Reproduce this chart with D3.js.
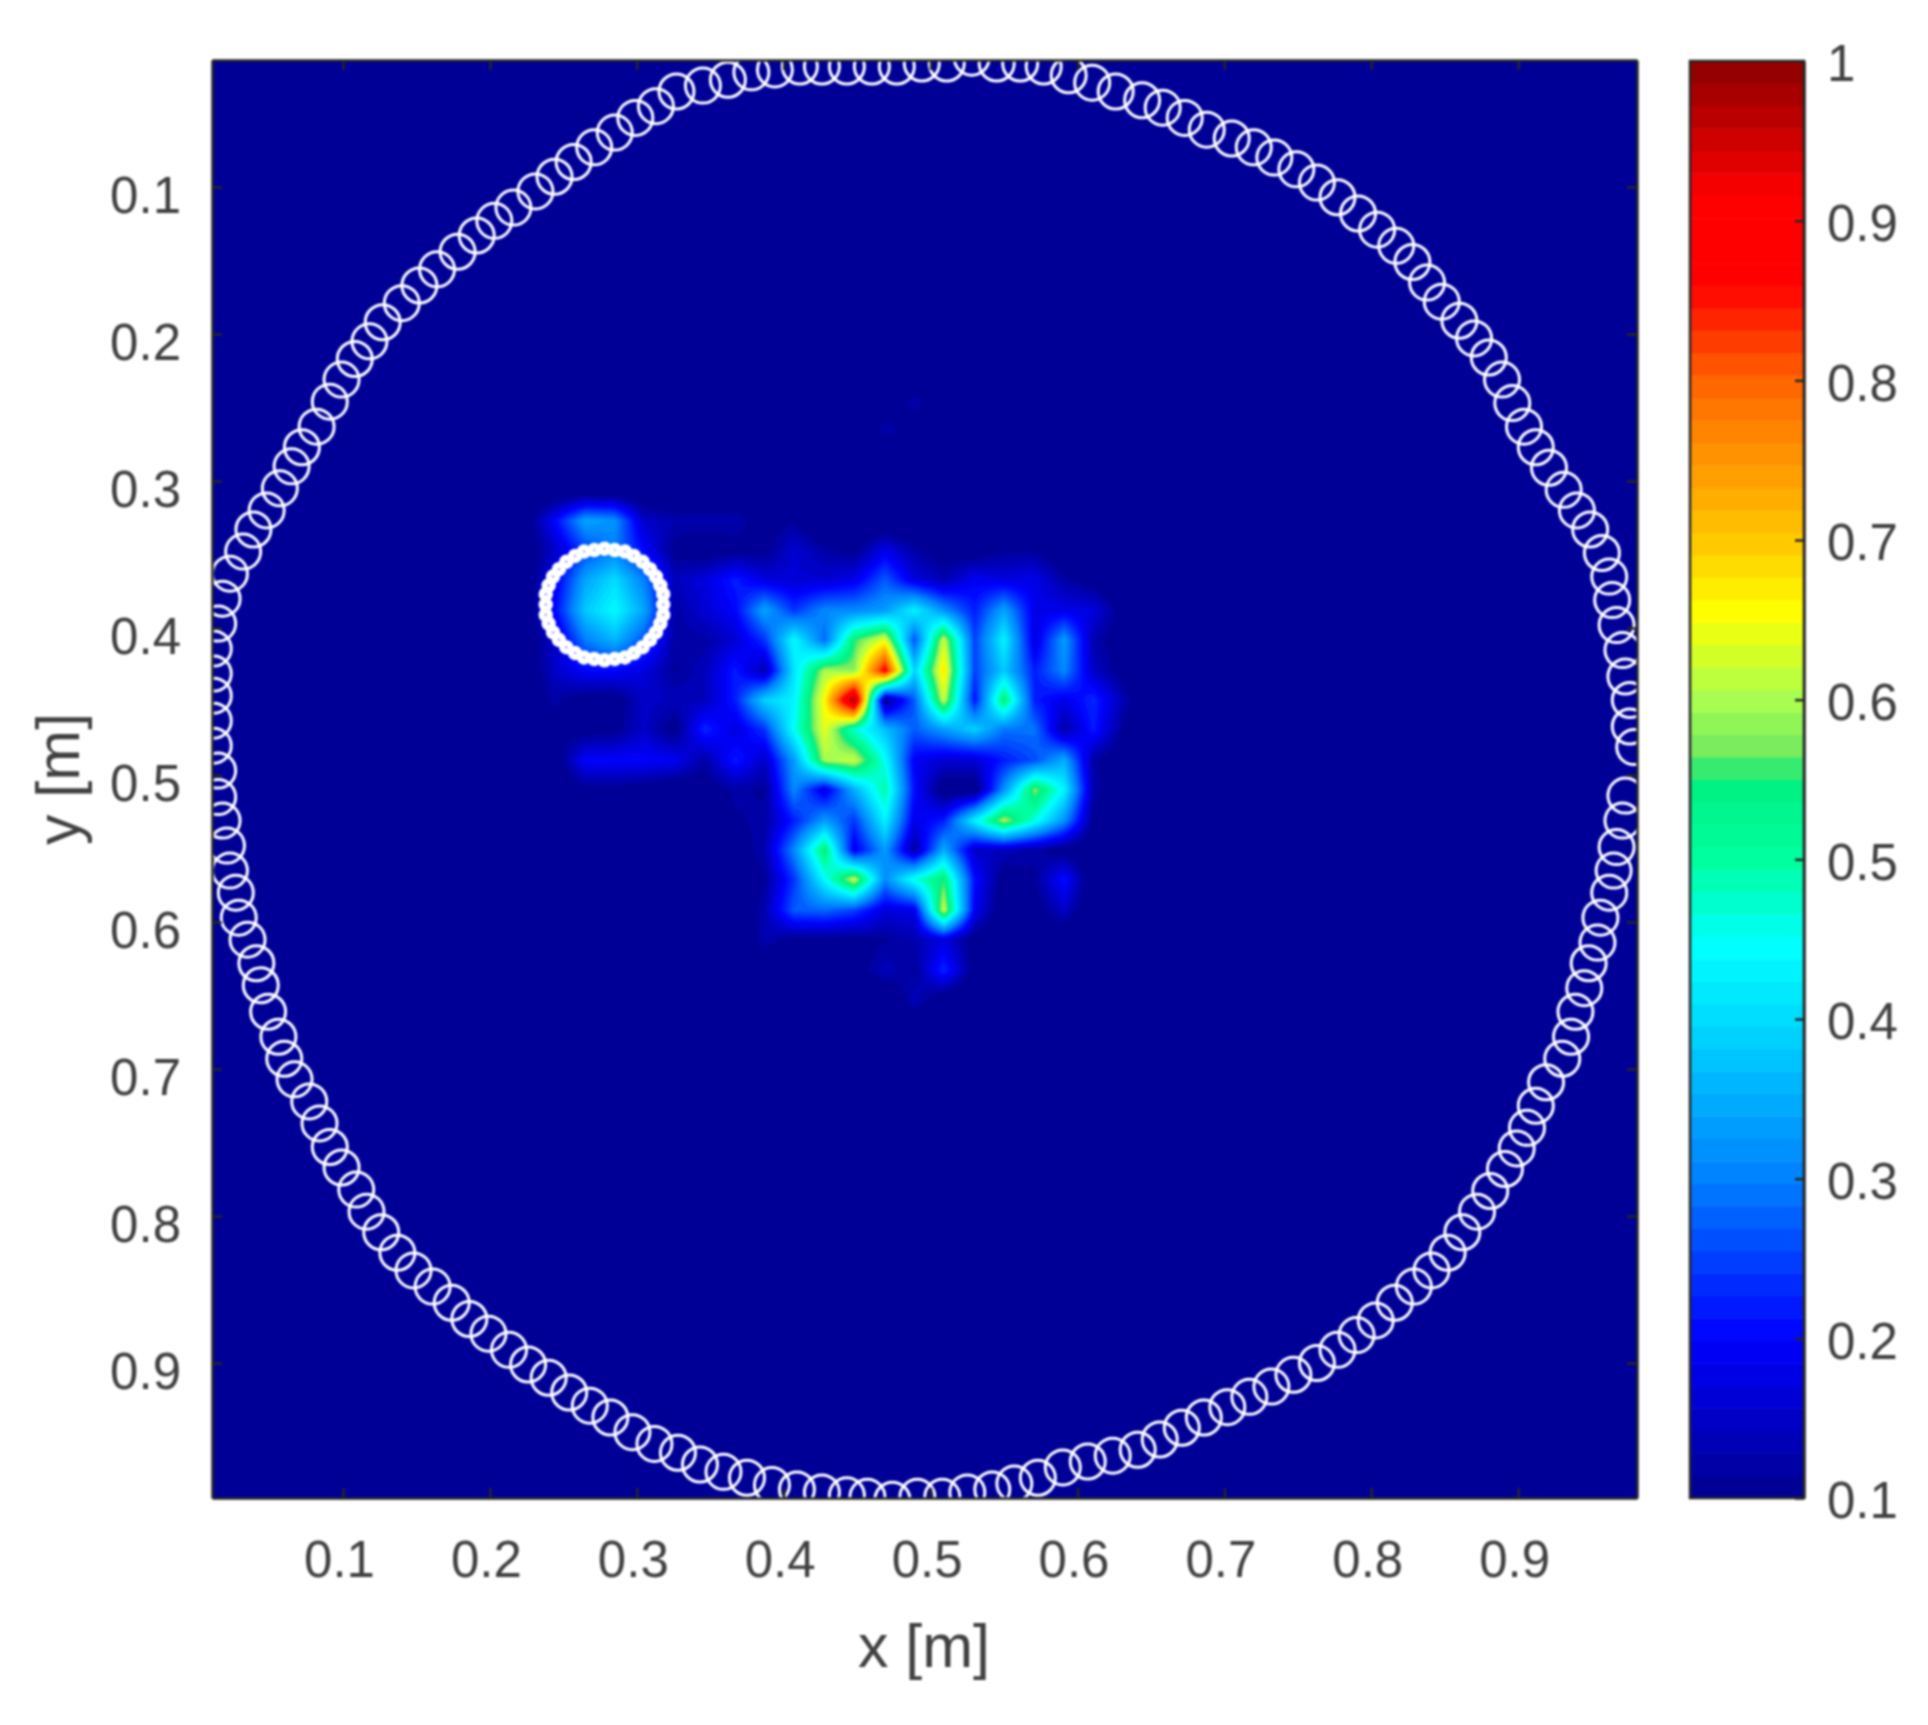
<!DOCTYPE html>
<html lang="en">
<head>
<meta charset="utf-8">
<title>Reconstruction map</title>
<script src="https://d3js.org/d3.v7.min.js"></script>
<style>
  html, body { margin: 0; background: #fff; }
  svg { display: block; filter: blur(0.8px); font-family: "Liberation Sans", Arial, sans-serif; }
  .axis text { fill: #404040; font-size: 51px; }
  .axis line, .axis path { stroke: #262626; stroke-width: 2.5px; }
  .label { fill: #404040; font-size: 61px; text-anchor: middle; }
</style>
</head>
<body>
<div id="chart"></div>
<script>
// axis ticks
var axisTicks = [0.1, 0.2, 0.3, 0.4, 0.5, 0.6, 0.7, 0.8, 0.9];
var axisTickLabels = ["0.1", "0.2", "0.3", "0.4", "0.5", "0.6", "0.7", "0.8", "0.9"];
var cbarTicks = [0.1, 0.2, 0.3, 0.4, 0.5, 0.6, 0.7, 0.8, 0.9, 1];
var cbarTickLabels = ["0.1", "0.2", "0.3", "0.4", "0.5", "0.6", "0.7", "0.8", "0.9", "1"];

// colour stops
var colorStops = [0.1, 0.2, 0.3, 0.4, 0.445, 0.5, 0.55, 0.565, 0.6, 0.655, 0.7, 0.8, 0.86, 0.915, 1];
var colorValues = ["#00008f", "#0000ff", "#0080ff", "#00dcff", "#00ffff", "#00ffa0", "#00f080", "#70e860", "#a8ff50",
                   "#ffff00", "#ffc800", "#ff6400", "#ff0000", "#ff0000", "#8b0000"];

// grid of the image, metres
var gridX = [.224,.244,.265,.285,.305,.326,.346,.367,.387,.407,.428,.448,.469,.489,.509,.530,.550,.571,.591,.611,.632,.652];
var gridY = [.245,.265,.286,.306,.327,.347,.367,.388,.408,.429,.449,.469,.490,.510,.531,.551,.571,.592,.612,.633,.653,.673];

// image values, one row per gridY
var gridValues = [
  [.06,.06,.06,.06,.06,.06,.06,.06,.06,.06,.06,.06,.06,.13,.06,.06,.06,.06,.06,.06,.06,.06],
  [.06,.06,.06,.06,.06,.06,.06,.06,.06,.06,.06,.06,.13,.09,.06,.06,.06,.06,.06,.06,.06,.06],
  [.06,.06,.06,.06,.06,.06,.06,.06,.06,.06,.06,.06,.06,.06,.06,.06,.06,.06,.06,.06,.06,.06],
  [.06,.06,.06,.06,.06,.06,.06,.06,.06,.06,.06,.06,.06,.06,.06,.06,.06,.06,.06,.06,.06,.06],
  [.08,.20,.34,.32,.15,.13,.13,.13,.09,.11,.06,.06,.06,.06,.06,.06,.06,.06,.06,.06,.06,.06],
  [.07,.15,.25,.30,.20,.10,.08,.10,.10,.16,.12,.10,.18,.12,.09,.08,.11,.11,.07,.06,.06,.06],
  [.08,.18,.34,.40,.30,.14,.17,.22,.17,.16,.16,.18,.27,.17,.13,.19,.17,.18,.12,.09,.06,.06],
  [.08,.20,.38,.44,.34,.12,.16,.20,.34,.24,.31,.31,.33,.43,.32,.22,.34,.18,.18,.17,.09,.06],
  [.08,.15,.30,.36,.26,.12,.12,.16,.24,.44,.28,.55,.64,.26,.62,.25,.43,.17,.33,.13,.08,.06],
  [.07,.15,.20,.20,.17,.11,.14,.22,.13,.41,.60,.58,.88,.39,.68,.25,.38,.22,.31,.15,.09,.06],
  [.07,.12,.09,.09,.15,.14,.14,.22,.39,.43,.66,1.0,.09,.27,.62,.21,.55,.22,.18,.23,.13,.06],
  [.06,.10,.09,.10,.15,.09,.23,.17,.24,.45,.64,.47,.37,.27,.33,.39,.29,.29,.12,.22,.10,.06],
  [.06,.08,.20,.20,.20,.19,.12,.22,.15,.33,.60,.62,.45,.19,.16,.16,.22,.26,.35,.12,.07,.06],
  [.06,.06,.10,.10,.09,.07,.09,.12,.11,.31,.17,.35,.50,.21,.08,.08,.32,.58,.43,.13,.06,.06],
  [.06,.06,.06,.06,.06,.06,.06,.11,.12,.22,.33,.24,.43,.18,.22,.43,.60,.46,.32,.10,.06,.06],
  [.06,.06,.06,.06,.06,.06,.05,.09,.13,.31,.55,.18,.33,.12,.35,.15,.14,.12,.09,.07,.06,.06],
  [.06,.06,.06,.06,.06,.06,.05,.07,.11,.24,.44,.62,.31,.46,.55,.21,.09,.11,.21,.07,.06,.06],
  [.06,.06,.06,.06,.06,.06,.05,.07,.13,.27,.28,.25,.17,.18,.62,.19,.07,.09,.15,.06,.06,.06],
  [.06,.06,.06,.06,.06,.06,.05,.06,.13,.10,.10,.10,.11,.13,.17,.09,.06,.06,.07,.05,.06,.06],
  [.06,.06,.06,.06,.06,.06,.05,.05,.07,.07,.07,.09,.14,.11,.23,.09,.11,.06,.05,.05,.06,.06],
  [.06,.06,.06,.06,.06,.06,.06,.06,.06,.06,.06,.06,.06,.14,.07,.06,.06,.06,.06,.06,.06,.06],
  [.06,.06,.06,.06,.06,.06,.06,.06,.06,.06,.06,.06,.06,.06,.06,.06,.06,.06,.06,.06,.06,.06]
];

// outer ring of sensors, metres, clockwise from the top
var ringX = [.345,.362,.378,.394,.411,.426,.443,.460,.477,.494,.511,.528,.545,.561,.577,.594,.610,.626,.644,
  .658,.673,.688,.705,.720,.734,.749,.763,.777,.791,.804,.817,.828,.838,.848,.860,.870,.880,.889,.896,.904,.912,.921,.931,.940,.949,
  .957,.962,.964,.967,.971,.973,.976,.976,.979,
  .973,.971,.967,.965,.962,.956,.954,.948,.945,.939,
  .936,.930,.919,.912,.906,.899,.891,.881,.872,.862,.852,.841,.829,.816,.803,.790,.777,.763,.747,.732,.717,.702,.686,.671,.656,
  .641,.624,.607,.590,.573,.557,.542,.525,.508,.491,.474,.457,.443,.426,.409,.392,.375,.359,.343,
  .328,.312,.297,.282,.268,.254,.240,.226,.213,.199,.186,.174,.161,.148,.137,.126,.116,.109,.099,.091,.084,.077,.067,.060,.056,
  .049,.044,.041,.035,.029,.027,.023,.021,.018,.015,.015,.012,.012,.012,.012,.012,.015,.018,.023,.032,
  .039,.048,.057,.065,.072,.082,.091,.099,.108,.118,.127,.140,.152,.164,.178,.191,.203,.216,.231,.244,.257,.271,.285,.299,.313,.327];
var ringY = [.031,.027,.022,.020,.018,.018,.018,.018,.018,.016,.016,.012,.016,.016,.018,.024,.029,.035,.041,
  .046,.053,.061,.067,.073,.080,.088,.097,.107,.118,.129,.140,.151,.165,.178,.191,.203,.216,.231,.247,.263,.277,.291,.306,.320,.333,
  .349,.365,.381,.398,.415,.433,.449,.467,.481,
  .514,.531,.549,.565,.580,.597,.614,.628,.645,.661,
  .678,.693,.709,.725,.740,.754,.768,.783,.797,.811,.825,.837,.848,.859,.871,.881,.891,.900,.908,.916,.923,.930,.937,.944,.952,
  .959,.963,.967,.971,.978,.982,.986,.988,.991,.991,.993,.991,.990,.988,.986,.983,.978,.974,.969,
  .961,.955,.947,.937,.929,.920,.910,.901,.891,.880,.870,.859,.848,.837,.825,.811,.797,.782,.767,.753,.737,.722,.707,.693,.678,
  .661,.643,.628,.612,.597,.580,.565,.548,.531,.515,.497,.480,.463,.446,.431,.414,.397,.380,.363,.348,
  .333,.320,.305,.290,.277,.263,.246,.231,.217,.205,.192,.179,.167,.156,.144,.133,.123,.114,.103,.093,.083,.073,.063,.053,.045,.035];

// small target ring, metres
var targetX = [.318,.318,.316,.313,.309,.304,.298,.292,.285,.278,.271,.264,.258,.252,.247,.243,.240,.238,.238,
  .238,.240,.243,.247,.252,.258,.264,.271,.278,.285,.292,.298,.304,.309,.313,.316,.318];
var targetY = [.384,.391,.397,.403,.408,.413,.417,.420,.421,.422,.421,.420,.417,.413,.408,.403,.397,.391,.384,
  .377,.371,.365,.360,.355,.351,.348,.347,.346,.347,.348,.351,.355,.360,.365,.371,.377];

var width = 1928, height = 1725;
var plot = {left: 212, right: 1637, top: 60, bottom: 1498};
var bar = {left: 1690, right: 1804, top: 61, bottom: 1498};

var svg = d3.select("#chart").append("svg")
  .attr("width", width)
  .attr("height", height);

var x = d3.scaleLinear().domain([0.0108, 0.9809]).range([plot.left, plot.right]);
var y = d3.scaleLinear().domain([0.0136, 0.9918]).range([plot.top, plot.bottom]);
var cbarY = d3.scaleLinear().domain([0.1, 1]).range([bar.bottom, bar.top]);
var color = d3.scaleLinear().domain(colorStops).range(colorValues).clamp(true);

// 64 colour levels like the colorbar
var levels = d3.range(64).map(function(i) { return 0.1 + i * 0.9 / 64; });
var levelColor = function(v) { return color(v + 0.9 / 128); };

svg.append("defs").append("clipPath").attr("id", "plot-clip")
  .append("rect")
    .attr("x", plot.left).attr("y", plot.top)
    .attr("width", plot.right - plot.left).attr("height", plot.bottom - plot.top);

var plotArea = svg.append("g").attr("clip-path", "url(#plot-clip)");

plotArea.append("rect")
  .attr("x", plot.left).attr("y", plot.top)
  .attr("width", plot.right - plot.left).attr("height", plot.bottom - plot.top)
  .attr("fill", levelColor(levels[0]));

// filled bands of the image, shaded between grid values like shading interp
var nCols = gridX.length, nRows = gridY.length, sub = 6;
var fineCols = (nCols - 1) * sub + 1, fineRows = (nRows - 1) * sub + 1;
var colToX = d3.scaleLinear().domain(d3.range(nCols)).range(gridX);
var rowToY = d3.scaleLinear().domain(d3.range(nRows)).range(gridY);

var shaded = [];
for (var j = 0; j < fineRows; j++) {
  for (var i = 0; i < fineCols; i++) {
    var c = Math.min(Math.floor(i / sub), nCols - 2), r = Math.min(Math.floor(j / sub), nRows - 2);
    var u = i / sub - c, v = j / sub - r;
    shaded.push(
      gridValues[r][c] * (1 - u) * (1 - v) + gridValues[r][c + 1] * u * (1 - v) +
      gridValues[r + 1][c] * (1 - u) * v + gridValues[r + 1][c + 1] * u * v);
  }
}

var contours = d3.contours()
  .size([fineCols, fineRows])
  .thresholds(levels.slice(1))(shaded);

var gridPath = d3.geoPath(d3.geoTransform({
  point: function(px, py) {
    this.stream.point(x(colToX((px - 0.5) / sub)), y(rowToY((py - 0.5) / sub)));
  }
}));

plotArea.append("g").selectAll("path")
  .data(contours)
  .join("path")
    .attr("d", gridPath)
    .attr("fill", function(d) { return levelColor(d.value); });

// sensor rings
plotArea.append("g").selectAll("circle")
  .data(d3.range(ringX.length))
  .join("circle")
    .attr("cx", function(i) { return x(ringX[i]); })
    .attr("cy", function(i) { return y(ringY[i]); })
    .attr("r", 17.5)
    .attr("fill", "none")
    .attr("stroke", "#fff")
    .attr("stroke-width", 3);

plotArea.append("g").selectAll("circle")
  .data(d3.range(targetX.length))
  .join("circle")
    .attr("cx", function(i) { return x(targetX[i]); })
    .attr("cy", function(i) { return y(targetY[i]); })
    .attr("r", 4)
    .attr("fill", "none")
    .attr("stroke", "#fff")
    .attr("stroke-width", 6.5);

// axes, ticks point inwards on all four sides
function labelOf(ticks, labels) {
  return function(d) { return labels[ticks.indexOf(d)]; };
}

svg.append("g").attr("class", "axis")
  .attr("transform", "translate(0," + plot.bottom + ")")
  .call(d3.axisBottom(x).tickValues(axisTicks).tickSizeInner(-10).tickSizeOuter(0).tickPadding(43)
    .tickFormat(labelOf(axisTicks, axisTickLabels)))
  .selectAll("text").attr("dx", "-4px");

svg.append("g").attr("class", "axis")
  .attr("transform", "translate(0," + plot.top + ")")
  .call(d3.axisTop(x).tickValues(axisTicks).tickSizeInner(-10).tickSizeOuter(0).tickFormat(""));

svg.append("g").attr("class", "axis")
  .attr("transform", "translate(" + plot.left + ",0)")
  .call(d3.axisLeft(y).tickValues(axisTicks).tickSizeInner(-10).tickSizeOuter(0).tickPadding(31)
    .tickFormat(labelOf(axisTicks, axisTickLabels)))
  .selectAll("text").attr("dy", "0.49em");

svg.append("g").attr("class", "axis")
  .attr("transform", "translate(" + plot.right + ",0)")
  .call(d3.axisRight(y).tickValues(axisTicks).tickSizeInner(-10).tickSizeOuter(0).tickFormat(""));

svg.append("text").attr("class", "label")
  .attr("x", 924).attr("y", 1667)
  .text("x [m]");

svg.append("text").attr("class", "label")
  .attr("transform", "translate(79,779) rotate(-90)")
  .text("y [m]");

// colorbar
svg.append("g").selectAll("rect")
  .data(levels)
  .join("rect")
    .attr("x", bar.left)
    .attr("width", bar.right - bar.left)
    .attr("y", function(d) { return cbarY(d + 0.9 / 64); })
    .attr("height", function(d) { return cbarY(d) - cbarY(d + 0.9 / 64) + 0.5; })
    .attr("fill", levelColor);

svg.append("rect")
  .attr("x", bar.left).attr("y", bar.top)
  .attr("width", bar.right - bar.left).attr("height", bar.bottom - bar.top)
  .attr("fill", "none")
  .attr("stroke", "#262626")
  .attr("stroke-width", 2.5);

svg.append("g").attr("class", "axis")
  .attr("transform", "translate(" + bar.right + ",0)")
  .call(d3.axisRight(cbarY).tickValues(cbarTicks).tickSizeInner(-9).tickSizeOuter(0).tickPadding(23)
    .tickFormat(labelOf(cbarTicks, cbarTickLabels)))
  .selectAll("text").attr("dy", "0.39em");
</script>
</body>
</html>
